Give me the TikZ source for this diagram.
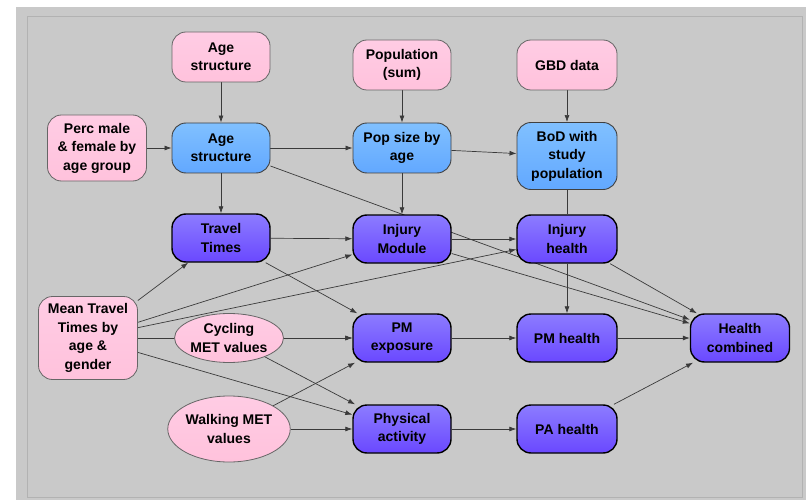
\documentclass[tikz,border=0pt]{standalone}
\usepackage{fontspec}
\setmainfont{Liberation Sans}
\usetikzlibrary{shapes.geometric}
\usetikzlibrary{backgrounds}
\usetikzlibrary{arrows.meta}
\definecolor{bggray}{HTML}{C9C9C9}
\definecolor{framegray}{HTML}{B2B2B2}
\definecolor{linkgray}{HTML}{3A3A3A}
\definecolor{pinktop}{HTML}{FFCCE4}
\definecolor{pinkbot}{HTML}{FFC2DC}
\definecolor{bluetop}{HTML}{80C0FF}
\definecolor{bluebot}{HTML}{62A8FF}
\definecolor{purptop}{HTML}{8C7CFF}
\definecolor{purpbot}{HTML}{6A48FF}

\begin{document}
\begin{tikzpicture}[x=1pt, y=-1pt,
        every node/.style={font=\fontsize{14}{18.5}\selectfont\bfseries, align=center, inner sep=2pt},
        inbox/.style={rectangle, rounded corners=14pt, draw=black!60, line width=0.8pt, top color=pinktop, bottom color=pinkbot, minimum width=98pt, minimum height=50pt},
        inoval/.style={ellipse, draw=black!60, line width=0.8pt, top color=pinktop, bottom color=pinkbot, inner sep=0pt},
        popbox/.style={rectangle, rounded corners=14pt, draw=black!75, line width=0.9pt, top color=bluetop, bottom color=bluebot, minimum width=98pt, minimum height=50pt},
        modbox/.style={rectangle, rounded corners=14pt, draw=black, line width=1.4pt, top color=purptop, bottom color=purpbot, minimum width=98pt, minimum height=48pt},
        link/.style={draw=linkgray, line width=0.7pt},
        tip/.style={-{Latex[length=7pt, width=5pt]}}]
        \useasboundingbox (0,0) rectangle (806,500);

        \node[inbox] (agetop) at (221,57) {Age\\structure};
        \node[inbox] (popsum) at (402,65) {Population\\(sum)};
        \node[inbox, minimum width=100pt] (gbd) at (567,65) {GBD data};
        \node[inbox, minimum width=99pt, minimum height=66pt] (perc) at (97,148) {Perc male\\\& female by\\age group};
        \node[popbox] (agestr) at (221,148) {Age\\structure};
        \node[popbox] (popsize) at (402,148) {Pop size by\\age};
        \node[popbox, minimum width=100pt, minimum height=67pt] (bod) at (567,156) {BoD with\\study\\population};
        \node[modbox] (travel) at (221,238) {Travel\\Times};
        \node[modbox] (injmod) at (402,239) {Injury\\Module};
        \node[modbox, minimum width=100pt] (injhlth) at (567,239) {Injury\\health};
        \node[inbox, minimum width=99pt, minimum height=83pt] (meantt) at (88,338) {Mean Travel\\Times by\\age \&\\gender};
        \node[inoval, minimum width=99pt, minimum height=49pt] (cycmet) at (229,338) {Cycling\\MET values};
        \node[inoval, minimum width=116pt, minimum height=66pt] (walkmet) at (229,429) {Walking MET\\values};
        \node[modbox] (pmexp) at (402,338) {PM\\exposure};
        \node[modbox] (physact) at (402,429) {Physical\\activity};
        \node[modbox, minimum width=100pt] (pmhlth) at (567,338) {PM health};
        \node[modbox, minimum width=100pt] (pahlth) at (567,429) {PA health};
        \node[modbox, minimum width=99pt] (hlthcomb) at (740,338) {Health\\combined};

        \begin{scope}[on background layer]
        \fill[bggray] (16,7) rectangle (806,500);
        \draw[framegray, line width=1pt] (27,17) rectangle (802,497);

        \draw[link, tip] (agetop) -- (agestr);
        \draw[link, tip] (popsum) -- (popsize);
        \draw[link, tip] (gbd) -- (bod);
        \draw[link, tip] (perc) -- (agestr);
        \draw[link, tip] (agestr) -- (popsize);
        \draw[link, tip] (popsize) -- (bod);
        \draw[link, tip] (agestr) -- (travel);
        \draw[link, tip] (popsize) -- (injmod);
        \draw[link] (bod) -- (injhlth);
        \draw[link, tip] (agestr) -- (hlthcomb);
        \draw[link, tip] (travel) -- (injmod);
        \draw[link, tip] (travel) -- (pmexp);
        \draw[link, tip] (injmod) -- (injhlth);
        \draw[link, tip] (injmod) -- (hlthcomb);
        \draw[link, tip] (injhlth) -- (pmhlth);
        \draw[link, tip] (injhlth) -- (hlthcomb);
        \draw[link, tip] (meantt) -- (travel);
        \draw[link, tip] (meantt) -- (injmod);
        \draw[link, tip] (meantt) -- (injhlth);
        \draw[link, tip] (meantt) -- (pmexp);
        \draw[link, tip] (meantt) -- (physact);
        \draw[link, tip] (cycmet) -- (pmexp);
        \draw[link, tip] (cycmet) -- (physact);
        \draw[link, tip] (walkmet) -- (pmexp);
        \draw[link, tip] (walkmet) -- (physact);
        \draw[link, tip] (pmexp) -- (pmhlth);
        \draw[link, tip] (physact) -- (pahlth);
        \draw[link, tip] (pmhlth) -- (hlthcomb);
        \draw[link, tip] (pahlth) -- (hlthcomb);
        \end{scope}
        \end{tikzpicture}
\end{document}
